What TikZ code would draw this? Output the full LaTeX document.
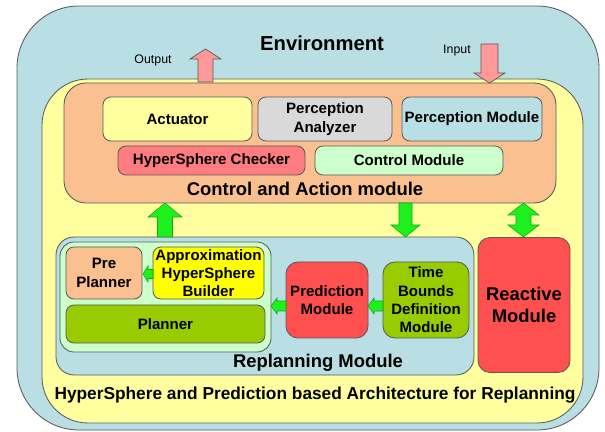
\documentclass[tikz,border=0pt]{standalone}
\usepackage{fontspec}
\setmainfont{Liberation Sans}
\usetikzlibrary{calc}
\definecolor{envblue}{RGB}{185,222,227}
\definecolor{archyellow}{RGB}{255,255,160}
\definecolor{peach}{RGB}{250,192,144}
\definecolor{palegray}{RGB}{217,217,217}
\definecolor{salmon}{RGB}{255,124,128}
\definecolor{palegreen}{RGB}{204,255,204}
\definecolor{brightyellow}{RGB}{255,255,0}
\definecolor{olive}{RGB}{153,204,0}
\definecolor{modred}{RGB}{255,80,80}
\definecolor{arrowpink}{RGB}{255,153,153}
\definecolor{arrowgreen}{RGB}{30,240,30}
\definecolor{edgegray}{RGB}{90,90,90}
\newcommand{\pxu}{0.025cm}
\newcommand{\vfat}[7][]{%
  \pgfmathsetmacro{\fatbase}{#4+#7*sign(#3-#4)}%
  \draw[#1] (#2-#5,#3) -- (#2-#5,\fatbase) -- (#2-#6,\fatbase) -- (#2,#4)
    -- (#2+#6,\fatbase) -- (#2+#5,\fatbase) -- (#2+#5,#3) -- cycle;}
\newcommand{\hfat}[7][]{%
  \pgfmathsetmacro{\fatbase}{#4+#7*sign(#3-#4)}%
  \draw[#1] (#3,#2-#5) -- (\fatbase,#2-#5) -- (\fatbase,#2-#6) -- (#4,#2)
    -- (\fatbase,#2+#6) -- (\fatbase,#2+#5) -- (#3,#2+#5) -- cycle;}
\newcommand{\dfat}[7][]{%
  \draw[#1] (#2,#3) -- (#2+#6,#3+#7) -- (#2+#5,#3+#7) -- (#2+#5,#4-#7) -- (#2+#6,#4-#7)
    -- (#2,#4) -- (#2-#6,#4-#7) -- (#2-#5,#4-#7) -- (#2-#5,#3+#7) -- (#2-#6,#3+#7) -- cycle;}
\tikzset{
  frame/.style={draw=edgegray, line width=0.6pt, inner sep=0pt},
  box/.style={draw=edgegray, line width=0.6pt, rounded corners=0.2cm, align=center,
    inner sep=0.5pt, font=\bfseries\fontsize{10.7}{13}\selectfont},
  title/.style={font=\bfseries\fontsize{13.1}{15.6}\selectfont, align=center},
  fatpink/.style={draw=edgegray, line width=0.5pt, fill=arrowpink},
  fatgreen/.style={draw=arrowgreen!70!black, line width=0.4pt, fill=arrowgreen}
}
\begin{document}
\begin{tikzpicture}[x=0.025cm, y=-0.025cm]
\useasboundingbox (0,0) rectangle (605,432);
\node[frame, fill=envblue, rounded corners=1.55cm, minimum width=582*\pxu, minimum height=424*\pxu] (env) at (308,218) {};
\node[frame, fill=archyellow, rounded corners=1.15cm, minimum width=541*\pxu, minimum height=344*\pxu] (arch) at (312.5,251) {};
\node[frame, fill=peach, rounded corners=0.55cm, minimum width=492*\pxu, minimum height=120*\pxu] (ctrl) at (310,143) {};

\node[font=\bfseries\fontsize{14.4}{17}\selectfont] (envlabel) at (322,43) {Environment};
\node[font=\fontsize{8.8}{10}\selectfont] (outlabel) at (153,60) {Output};
\node[font=\fontsize{8.8}{10}\selectfont] (inlabel) at (457,51) {Input};

\node[box, fill=archyellow, minimum width=149*\pxu, minimum height=44*\pxu] (act) at (177.5,119) {Actuator};
\node[box, fill=palegray, minimum width=134*\pxu, minimum height=44*\pxu] (analyzer) at (325,119) {Perception\\Analyzer};
\node[box, fill=envblue, minimum width=140*\pxu, minimum height=44*\pxu] (percmod) at (472,119) {Perception Module};
\node[box, fill=salmon, minimum width=187*\pxu, minimum height=29*\pxu] (checker) at (211.5,160.5) {HyperSphere Checker};
\node[box, fill=palegreen, minimum width=188*\pxu, minimum height=29*\pxu] (ctrlmod) at (409,160.5) {Control Module};
\node[title] (ctrllabel) at (305,189) {Control and Action module};

\node[frame, fill=envblue, rounded corners=0.45cm, minimum width=418*\pxu, minimum height=138*\pxu] (replan) at (265,306) {};
\node[frame, fill=palegreen, rounded corners=0.35cm, minimum width=211*\pxu, minimum height=110*\pxu] (plangroup) at (165.5,297) {};
\node[box, fill=peach, minimum width=76*\pxu, minimum height=52*\pxu] (pre) at (104,273) {Pre\\Planner};
\node[box, fill=brightyellow, minimum width=111*\pxu, minimum height=52*\pxu] (approx) at (208.5,273) {Approximation\\HyperSphere\\Builder};
\node[box, fill=olive, minimum width=199*\pxu, minimum height=38*\pxu] (planner) at (165.5,324) {Planner};
\node[box, fill=modred, rounded corners=0.3cm, minimum width=82*\pxu, minimum height=76*\pxu] (pred) at (327,300) {Prediction\\Module};
\node[box, fill=olive, rounded corners=0.3cm, minimum width=86*\pxu, minimum height=76*\pxu] (timeb) at (426,300) {Time\\Bounds\\Definition\\Module};
\node[title] (replanlabel) at (318,363) {Replanning Module};
\node[box, title, fill=modred, rounded corners=0.3cm, minimum width=92*\pxu, minimum height=135*\pxu] (reactive) at (524,305) {Reactive\\Module};
\node[font=\bfseries\fontsize{12.3}{14}\selectfont] (archlabel) at (315,395) {HyperSphere and Prediction based Architecture for Replanning};

\vfat[fatpink]{205.5}{82}{49}{7.5}{15.5}{10}
\vfat[fatpink]{489.5}{44}{83}{8.5}{15.5}{10}
\vfat[fatgreen]{165}{237}{203}{7.5}{17}{14}
\vfat[fatgreen]{405.5}{203}{237}{6.5}{14.5}{12}
\dfat[fatgreen]{523.5}{203}{237}{7.5}{15.5}{12}
\hfat[fatgreen]{274}{153}{143}{4.5}{8}{5}
\hfat[fatgreen]{306}{286}{271}{5}{8}{6}
\hfat[fatgreen]{306}{383}{368}{5}{8}{6}
\end{tikzpicture}
\end{document}
